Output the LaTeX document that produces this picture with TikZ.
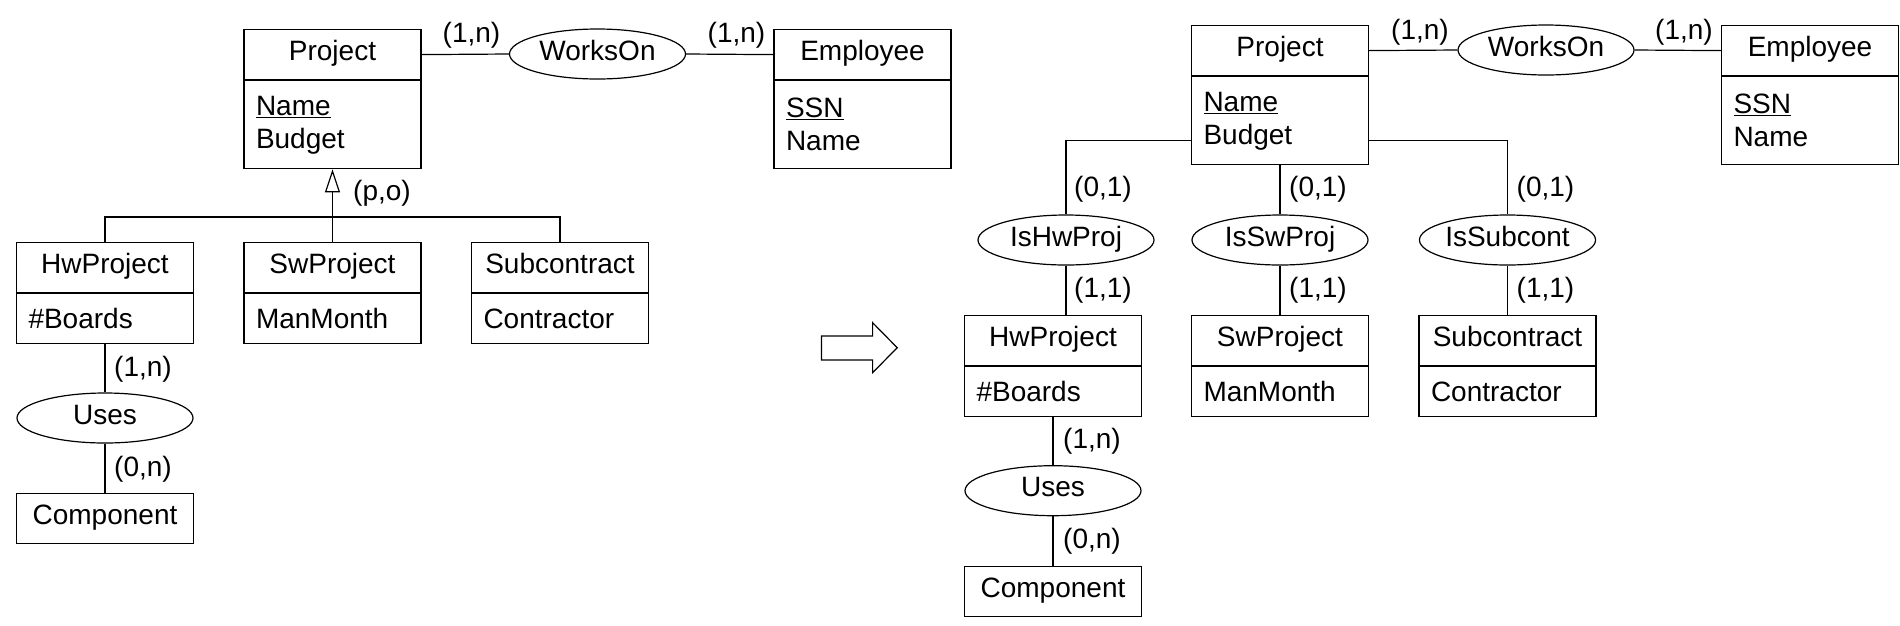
\documentclass[tikz,border=0pt]{standalone}
\usepackage{fontspec}
\setmainfont{Liberation Sans}
\usetikzlibrary{shapes.geometric,arrows.meta}
\begin{document}
\begin{tikzpicture}[x=1pt,y=-1pt,
  every node/.style={font=\fontsize{28}{33}\selectfont},
  head/.style={draw, line width=1.2pt, minimum width=177pt, minimum height=50pt, inner sep=0pt, text height=19pt, text depth=7pt, anchor=north},
  body/.style={draw, line width=1.2pt, minimum width=177pt, inner xsep=12pt, inner ysep=0pt, text width=153pt, align=left, anchor=north},
  rel/.style={draw, ellipse, line width=1.2pt, minimum width=176pt, minimum height=50pt, inner sep=0pt, text height=19pt, text depth=7pt},
  lbl/.style={inner sep=0pt},
  conn/.style={line width=1.2pt, draw=black}
]
\useasboundingbox (0,0) rectangle (1900,625);

% ---------- left diagram ----------
\node[head] (proj) at (332.5,29) {Project};
\node[body, minimum height=88pt] (projb) at (proj.south) {\underline{Name}\\Budget};
\node[rel] (works) at (597.5,54) {WorksOn};
\node[head] (emp) at (862.5,29) {Employee};
\node[body, minimum height=88pt] (empb) at (emp.south) {\underline{SSN}\\Name};
\draw[conn] (proj.east) -- (works.west);
\draw[conn] (works.east) -- (emp.west);
\node[lbl] (l1) at (471.5,35) {(1,n)};
\node[lbl] (l2) at (736.5,35) {(1,n)};

\node[head] (hw) at (105,242) {HwProject};
\node[body, minimum height=50pt] (hwb) at (hw.south) {\#Boards};
\node[head] (sw) at (332.5,242) {SwProject};
\node[body, minimum height=50pt] (swb) at (sw.south) {ManMonth};
\node[head] (sub) at (560,242) {Subcontract};
\node[body, minimum height=50pt] (subb) at (sub.south) {Contractor};
\coordinate (gen) at (332.5,217);
\draw[conn] (hw.north) |- (gen) -| (sub.north);
\draw[conn] (sw.north) -- (gen);
\draw[conn, -{Triangle[open, width=15pt, length=23pt]}] (gen) -- (projb.south);
\node[lbl] (po) at (382,193) {(p,o)};

\node[rel] (uses) at (105,418) {Uses};
\node[head] (comp) at (105,493) {Component};
\draw[conn] (hwb.south) -- (uses.north);
\draw[conn] (uses.south) -- (comp.north);
\node[lbl] (l3) at (143,369) {(1,n)};
\node[lbl] (l4) at (143,469) {(0,n)};

% ---------- transformation arrow ----------
\draw[line width=1.2pt] (821.5,336) -- (872.6,336) -- (872.6,322.7) -- (897.2,347.7)
  -- (872.6,372.7) -- (872.6,360) -- (821.5,360) -- cycle;

% ---------- right diagram ----------
\node[head] (rproj) at (1280,25) {Project};
\node[body, minimum height=88pt] (rprojb) at (rproj.south) {\underline{Name}\\Budget};
\node[rel] (rworks) at (1546,50) {WorksOn};
\node[head] (remp) at (1810,25) {Employee};
\node[body, minimum height=88pt] (rempb) at (remp.south) {\underline{SSN}\\Name};
\draw[conn] (rproj.east) -- (rworks.west);
\draw[conn] (rworks.east) -- (remp.west);
\node[lbl] (rl1) at (1420,32) {(1,n)};
\node[lbl] (rl2) at (1684,32) {(1,n)};

\node[rel] (rhwr) at (1066,240) {IsHwProj};
\node[rel] (rswr) at (1280,240) {IsSwProj};
\node[rel] (rsubr) at (1507.5,240) {IsSubcont};
\draw[conn] ([yshift=-20pt]rprojb.west) -| (rhwr.north);
\draw[conn] (rprojb.south) -- (rswr.north);
\draw[conn] ([yshift=-20pt]rprojb.east) -| (rsubr.north);
\node[lbl] (rc1) at (1103,189) {(0,1)};
\node[lbl] (rc2) at (1318,189) {(0,1)};
\node[lbl] (rc3) at (1545.5,189) {(0,1)};

\node[head] (rhw) at (1053,315) {HwProject};
\node[body, minimum height=50pt] (rhwb) at (rhw.south) {\#Boards};
\node[head] (rsw) at (1280,315) {SwProject};
\node[body, minimum height=50pt] (rswb) at (rsw.south) {ManMonth};
\node[head] (rsub) at (1507.5,315) {Subcontract};
\node[body, minimum height=50pt] (rsubb) at (rsub.south) {Contractor};
\draw[conn] (rhwr.south) -- (rhwr.south |- rhw.north);
\draw[conn] (rswr.south) -- (rsw.north);
\draw[conn] (rsubr.south) -- (rsub.north);
\node[lbl] (rd1) at (1103,290.5) {(1,1)};
\node[lbl] (rd2) at (1318,290.5) {(1,1)};
\node[lbl] (rd3) at (1545.5,290.5) {(1,1)};

\node[rel] (ruses) at (1053,490.7) {Uses};
\node[head] (rcomp) at (1053,566) {Component};
\draw[conn] (rhwb.south) -- (ruses.north);
\draw[conn] (ruses.south) -- (rcomp.north);
\node[lbl] (rl3) at (1092,441.7) {(1,n)};
\node[lbl] (rl4) at (1092,541.7) {(0,n)};
\end{tikzpicture}
\end{document}
